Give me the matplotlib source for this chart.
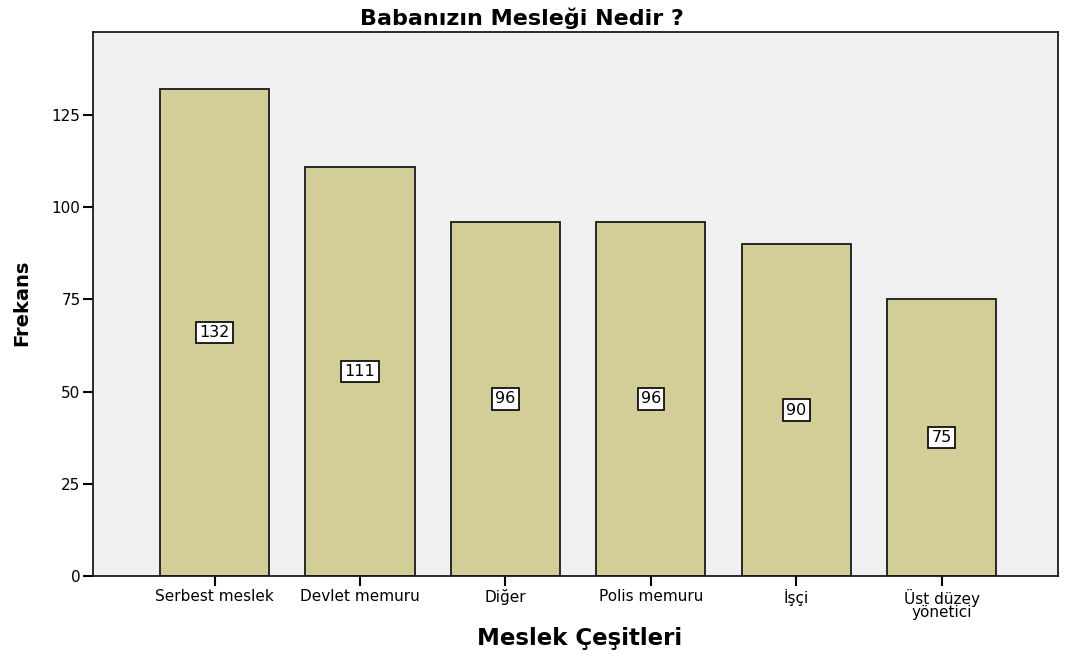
import matplotlib.pyplot as plt
import numpy as np

categories = ['Serbest meslek', 'Devlet memuru', 'Diğer', 'Polis memuru', 'İşçi', 'Üst düzey\nyönetici']
counts = [132, 111, 96, 96, 90, 75]
yticks = [0, 25, 50, 75, 100, 125]

plt.rcParams['font.family'] = ['DejaVu Sans']

fig = plt.figure(figsize=(10.67, 6.58), dpi=100)
ax = fig.add_axes([0.0872, 0.1246, 0.9044, 0.8268])
ax.set_facecolor('#f0f0f0')

x = np.arange(len(categories))
ax.bar(x, counts, width=0.75, color='#d3ce98', edgecolor='#1a1a1a', linewidth=1.3, zorder=2)

for xi, c in zip(x, counts):
    ax.text(xi, c / 2, str(c), ha='center', va='center', fontsize=11.5, zorder=3,
            bbox=dict(boxstyle='square,pad=0.2', facecolor='white', edgecolor='black', linewidth=1.2))

ax.set_xlim(-0.836, 5.80)
ax.set_ylim(0, 147.5)
ax.set_xticks(x)
ax.set_xticklabels(categories, fontsize=11, linespacing=0.9)
ax.set_yticks(yticks)
ax.tick_params(axis='both', direction='out', length=7, width=1.5, labelsize=11, pad=2)

for s in ax.spines.values():
    s.set_linewidth(1.3)
    s.set_color('#1a1a1a')

fig.text(0.489, 0.972, 'Babanızın Mesleği Nedir ?', fontsize=16, fontweight='bold',
         ha='center', va='center')
fig.text(0.0206, 0.5395, 'Frekans', fontsize=14, fontweight='bold', rotation=90,
         ha='center', va='center')
fig.text(0.5436, 0.030, 'Meslek Çeşitleri', fontsize=16.5, fontweight='bold',
         ha='center', va='center')

plt.savefig('out.png', dpi=100)
